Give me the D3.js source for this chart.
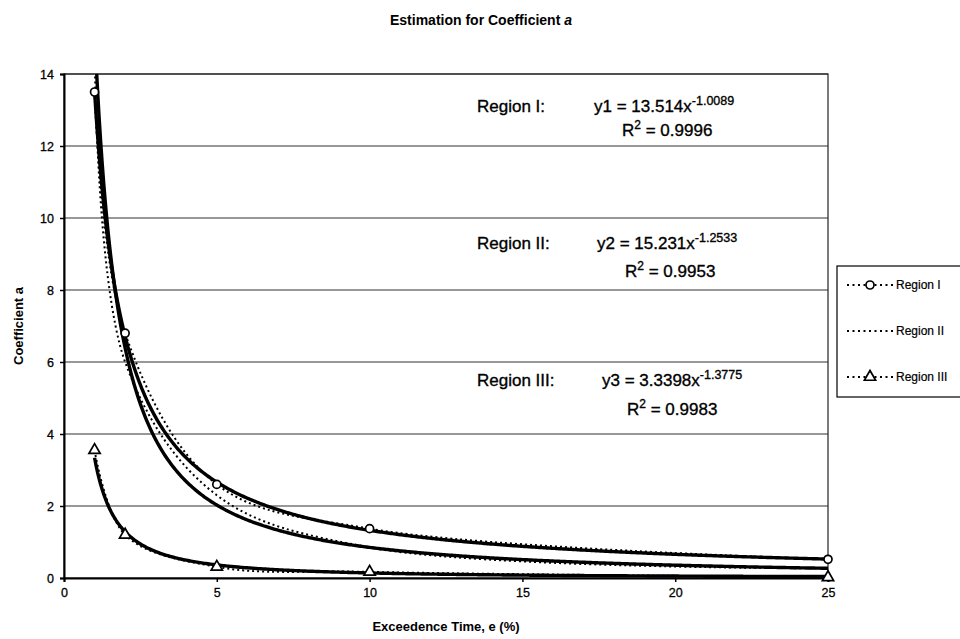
<!DOCTYPE html>
<html>
<head>
<meta charset="utf-8">
<script src="https://cdn.jsdelivr.net/npm/d3@7"></script>
<style>
  body { margin: 0; background: #fff; }
  svg { display: block; font-family: Arial, "Liberation Sans", sans-serif; }
</style>
</head>
<body>
<svg id="chart" width="960" height="639"></svg>
<script>
// Observed coefficient a per exceedence time, by region
const seriesNames = ["Region I", "Region II", "Region III"];
const regionIX = [1, 2, 5, 10, 25];
const regionIY = [13.5, 6.8, 2.6, 1.37, 0.52];
const regionIIX = [1, 2, 5, 10, 25];
const regionIIY = [14.9, 6.0, 2.3, 0.85, 0.27];
const regionIIIX = [1, 2, 5, 10, 25];
const regionIIIY = [3.55, 1.2, 0.31, 0.17, 0.02];

// Power-law trendlines y = c * x^p
const fitCoef = [13.514, 15.231, 3.3398];
const fitExp = [-1.0089, -1.2533, -1.3775];
const fitR2 = ["0.9996", "0.9953", "0.9983"];
const fitLabels = ["Region I:", "Region II:", "Region III:"];
const fitNames = ["y1", "y2", "y3"];

const xTicks = [0, 5, 10, 15, 20, 25];
const yTicks = [0, 2, 4, 6, 8, 10, 12, 14];

const svg = d3.select("#chart");
const plotLeft = 64, plotRight = 828, plotTop = 74, plotBottom = 578;
const x = d3.scaleLinear().domain([0, 25]).range([plotLeft, plotRight]);
const y = d3.scaleLinear().domain([0, 14]).range([plotBottom, plotTop]);

// Title
const title = svg.append("text")
  .attr("x", 481).attr("y", 25)
  .attr("text-anchor", "middle")
  .attr("font-size", 14).attr("font-weight", "bold");
title.append("tspan").text("Estimation for Coefficient ");
title.append("tspan").attr("font-style", "italic").text("a");

// Horizontal gridlines
svg.append("g")
  .selectAll("line")
  .data(yTicks.filter(d => d > 0))
  .join("line")
  .attr("x1", plotLeft).attr("x2", plotRight)
  .attr("y1", d => y(d)).attr("y2", d => y(d))
  .attr("stroke", "#333").attr("stroke-width", 1.2);

// Plot frame
svg.append("rect")
  .attr("x", plotLeft).attr("y", plotTop)
  .attr("width", plotRight - plotLeft).attr("height", plotBottom - plotTop)
  .attr("fill", "none").attr("stroke", "#222").attr("stroke-width", 1.2);

// Axes
const xAxis = svg.append("g")
  .attr("transform", `translate(0,${plotBottom})`)
  .call(d3.axisBottom(x).tickValues(xTicks).tickSize(4).tickPadding(6));
const yAxis = svg.append("g")
  .attr("transform", `translate(${plotLeft},0)`)
  .call(d3.axisLeft(y).tickValues(yTicks).tickSize(4).tickPadding(6));
[xAxis, yAxis].forEach(a => {
  a.select(".domain").attr("stroke", "#000").attr("stroke-width", 2);
  a.selectAll(".tick line").attr("stroke", "#000").attr("stroke-width", 1.5);
  a.selectAll(".tick text")
    .attr("font-size", 12.5).attr("font-family", "Arial, 'Liberation Sans', sans-serif")
    .attr("fill", "#000").attr("stroke", "#000").attr("stroke-width", 0.3);
});

// Axis titles
svg.append("text")
  .attr("x", 446).attr("y", 631)
  .attr("text-anchor", "middle")
  .attr("font-size", 13).attr("font-weight", "bold")
  .text("Exceedence Time, e (%)");
svg.append("text")
  .attr("transform", "translate(23,326) rotate(-90)")
  .attr("text-anchor", "middle")
  .attr("font-size", 13).attr("font-weight", "bold")
  .text("Coefficient a");

// Clip marks to the plot area
svg.append("clipPath").attr("id", "plot-clip")
  .append("rect")
  .attr("x", plotLeft).attr("y", plotTop)
  .attr("width", plotRight - plotLeft).attr("height", plotBottom - plotTop);
const plot = svg.append("g").attr("clip-path", "url(#plot-clip)");

const line = d3.line().x(d => x(d[0])).y(d => y(d[1]));
const smoothLine = d3.line().x(d => x(d[0])).y(d => y(d[1]))
  .curve(d3.curveCatmullRom.alpha(0.5));

// Trendlines over the observed range
fitCoef.forEach((c, i) => {
  const pts = d3.range(1, 25.001, 0.05).map(t => [t, c * Math.pow(t, fitExp[i])]);
  plot.append("path")
    .datum(pts)
    .attr("d", line)
    .attr("fill", "none")
    .attr("stroke", "#000")
    .attr("stroke-width", 3.4);
});

// Observed series, smoothed dotted lines
const series = [
  { xs: regionIX, ys: regionIY, marker: "circle" },
  { xs: regionIIX, ys: regionIIY, marker: null },
  { xs: regionIIIX, ys: regionIIIY, marker: "triangle" }
];
series.forEach(s => {
  const pts = s.xs.map((v, i) => [v, s.ys[i]]);
  plot.append("path")
    .datum(pts)
    .attr("d", smoothLine)
    .attr("fill", "none")
    .attr("stroke", "#000")
    .attr("stroke-width", 2)
    .attr("stroke-dasharray", "2,3");
});

function drawMarker(g, type, cx, cy) {
  if (type === "circle") {
    g.append("circle").attr("cx", cx).attr("cy", cy).attr("r", 4)
      .attr("fill", "#fff").attr("stroke", "#000").attr("stroke-width", 1.7);
  } else if (type === "triangle") {
    g.append("path")
      .attr("d", d3.symbol().type(d3.symbolTriangle).size(55)())
      .attr("transform", `translate(${cx},${cy})`)
      .attr("fill", "#fff").attr("stroke", "#000").attr("stroke-width", 1.7);
  }
}
const markers = svg.append("g");
series.forEach(s => {
  if (!s.marker) return;
  s.xs.forEach((v, i) => drawMarker(markers, s.marker, x(v), y(s.ys[i])));
});

// Trendline equations
const eqPos = [
  { lx: 477, ly: 112, ex: 594, r2x: 622, r2y: 136 },
  { lx: 477, ly: 249, ex: 597, r2x: 625, r2y: 277 },
  { lx: 477, ly: 386, ex: 602, r2x: 627, r2y: 415 }
];
fitCoef.forEach((c, i) => {
  const p = eqPos[i];
  svg.append("text").attr("x", p.lx).attr("y", p.ly)
    .attr("font-size", 17).attr("stroke", "#000").attr("stroke-width", 0.35)
    .text(fitLabels[i]);
  const eq = svg.append("text").attr("x", p.ex).attr("y", p.ly)
    .attr("font-size", 17).attr("stroke", "#000").attr("stroke-width", 0.35);
  eq.append("tspan").text(`${fitNames[i]} = ${c}x`);
  eq.append("tspan").attr("dy", -7).attr("font-size", 12.5).text(fitExp[i].toFixed(4));
  const r2 = svg.append("text").attr("x", p.r2x).attr("y", p.r2y)
    .attr("font-size", 17).attr("stroke", "#000").attr("stroke-width", 0.35);
  r2.append("tspan").text("R");
  r2.append("tspan").attr("dy", -7).attr("font-size", 12).text("2");
  r2.append("tspan").attr("dy", 7).text(` = ${fitR2[i]}`);
});

// Legend
const lg = svg.append("g");
lg.append("rect")
  .attr("x", 837).attr("y", 266).attr("width", 130).attr("height", 131)
  .attr("fill", "#fff").attr("stroke", "#000").attr("stroke-width", 1.2);
const legendY = [285, 331, 377];
series.forEach((s, i) => {
  const ly = legendY[i];
  lg.append("line")
    .attr("x1", 847).attr("x2", 894).attr("y1", ly).attr("y2", ly)
    .attr("stroke", "#000").attr("stroke-width", 2)
    .attr("stroke-dasharray", "2,3.5");
  if (s.marker) drawMarker(lg, s.marker, 870, ly);
  lg.append("text").attr("x", 896).attr("y", ly + 4)
    .attr("font-size", 12).attr("stroke", "#000").attr("stroke-width", 0.2)
    .text(seriesNames[i]);
});
</script>
</body>
</html>
